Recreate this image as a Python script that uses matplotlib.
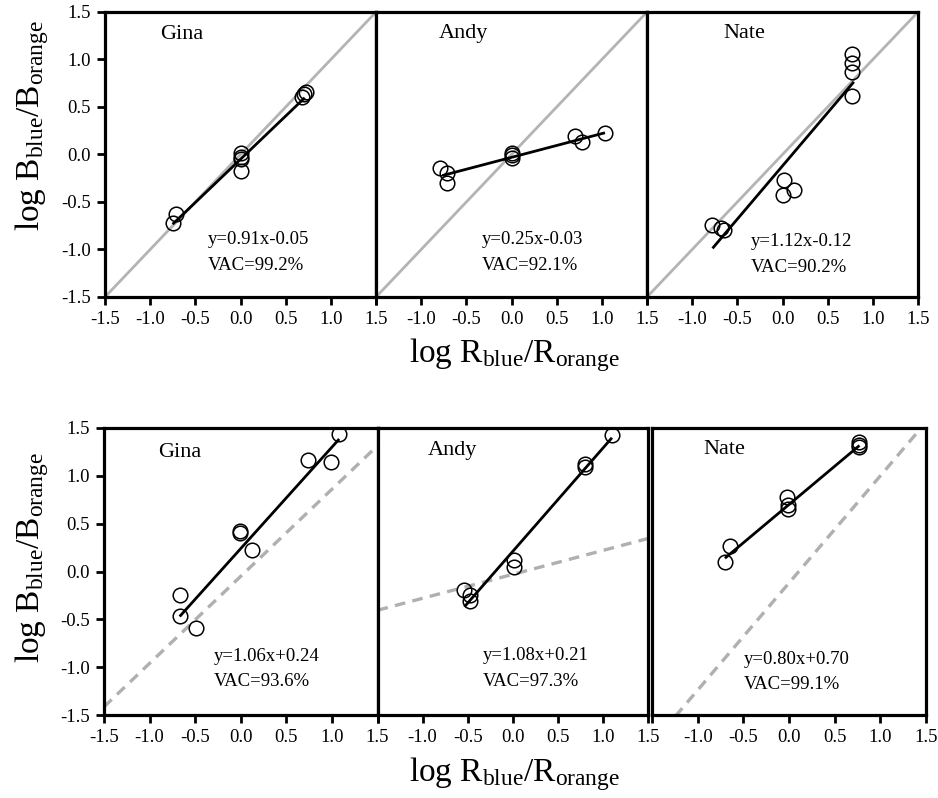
import matplotlib
matplotlib.use("Agg")
import matplotlib.pyplot as plt
import numpy as np

plt.rcParams['font.family'] = ['Liberation Serif', 'DejaVu Serif']
plt.rcParams['mathtext.fontset'] = 'custom'
plt.rcParams['mathtext.rm'] = 'Liberation Serif'
plt.rcParams['mathtext.it'] = 'Liberation Serif:italic'
plt.rcParams['axes.unicode_minus'] = False

names = ['Gina', 'Andy', 'Nate']

# top row: symmetric conditions
top_x = [
    [-0.75, -0.71, 0.0, 0.0, 0.01, 0.0, 0.68, 0.70, 0.72],
    [-0.79, -0.71, -0.71, 0.0, 0.01, 0.0, 0.70, 0.78, 1.04],
    [-0.78, -0.68, -0.65, 0.02, 0.13, 0.0, 0.77, 0.77, 0.77, 0.77],
]
top_y = [
    [-0.72, -0.63, 0.02, -0.03, -0.05, -0.17, 0.60, 0.64, 0.66],
    [-0.145, -0.19, -0.30, 0.02, -0.01, -0.04, 0.19, 0.13, 0.23],
    [-0.74, -0.77, -0.79, -0.27, -0.37, -0.43, 1.06, 0.96, 0.87, 0.62],
]
top_slope = [0.91, 0.25, 1.12]
top_icpt = [-0.05, -0.03, -0.12]
top_range = [(-0.74, 0.70), (-0.75, 1.02), (-0.765, 0.78)]
top_vac = ['99.2%', '92.1%', '90.2%']

# bottom row
bot_x = [
    [-0.67, -0.67, -0.49, -0.01, -0.01, 0.12, 0.74, 0.99, 1.08],
    [-0.54, -0.47, -0.47, 0.01, 0.01, 0.80, 0.80, 1.10],
    [-0.70, -0.65, -0.02, -0.01, -0.01, 0.77, 0.77, 0.77],
]
bot_y = [
    [-0.25, -0.47, -0.59, 0.42, 0.40, 0.22, 1.17, 1.14, 1.44],
    [-0.19, -0.25, -0.31, 0.12, 0.05, 1.12, 1.09, 1.43],
    [0.10, 0.27, 0.78, 0.69, 0.65, 1.35, 1.32, 1.30],
]
bot_slope = [1.06, 1.08, 0.80]
bot_icpt = [0.24, 0.21, 0.70]
bot_range = [(-0.66, 1.07), (-0.525, 1.09), (-0.69, 0.76)]
bot_vac = ['93.6%', '97.3%', '99.1%']

ticks = [-1.5, -1.0, -0.5, 0.0, 0.5, 1.0, 1.5]
tick_labels = ['%.1f' % t for t in ticks]

W, H = 938, 798
fig = plt.figure(figsize=(W / 100, H / 100), dpi=100)


def rect(x0, x1, ytop, ybot):
    return [x0 / W, 1 - ybot / H, (x1 - x0) / W, (ybot - ytop) / H]


top_edges = [(105, 376), (376, 647), (647, 918)]
bot_edges = [(104, 377.5), (377.5, 648), (652, 926)]

# label positions (data coords)
top_name_pos = [(-0.89, 1.26), (-0.81, 1.27), (-0.66, 1.27)]
top_eq_pos = [(-0.36, -0.90), (-0.33, -0.90), (-0.35, -0.92)]
bot_name_pos = [(-0.905, 1.24), (-0.94, 1.27), (-0.94, 1.28)]
bot_eq_pos = [(-0.30, -0.89), (-0.33, -0.88), (-0.49, -0.92)]


def style_axis(ax, col):
    ax.set_xlim(-1.5, 1.5)
    ax.set_ylim(-1.5, 1.5)
    ax.set_xticks(ticks)
    labs = list(tick_labels)
    if col > 0:
        labs[0] = ''
    ax.set_xticklabels(labs)
    ax.set_yticks(ticks)
    ax.set_yticklabels(tick_labels)
    ax.tick_params(direction='out', length=6, width=2, labelsize=13.5, pad=4)
    if col > 0:
        ax.tick_params(axis='y', left=False, labelleft=False)
    for s in ax.spines.values():
        s.set_linewidth(2.3)
        s.set_zorder(5)


def draw_row(edges, ytop, ybot, xs, ys, slope, icpt, rng, vac, name_pos, eq_pos, ref):
    for i in range(3):
        ax = fig.add_axes(rect(edges[i][0], edges[i][1], ytop, ybot))
        style_axis(ax, i)
        full = np.array([-1.5, 1.5])
        if ref is None:
            ax.plot(full, full, color='#b4b4b4', lw=2.0, zorder=1)
        else:
            ax.plot(full, ref[0][i] * full + ref[1][i], color='#b0b0b0', lw=2.4,
                    dashes=(3.2, 2.2), zorder=1)
        ax.plot(xs[i], ys[i], 'o', ms=10.5, mfc='none', mec='black', mew=1.1, zorder=2)
        fx = np.array(rng[i])
        ax.plot(fx, slope[i] * fx + icpt[i], color='black', lw=2.0, zorder=3)
        ax.text(name_pos[i][0], name_pos[i][1], names[i], fontsize=16, va='center', ha='left')
        sign = '+' if icpt[i] >= 0 else '-'
        eq = 'y=%.2fx%s%.2f' % (slope[i], sign, abs(icpt[i]))
        ax.text(eq_pos[i][0], eq_pos[i][1], eq, fontsize=13.5, va='center', ha='left')
        ax.text(eq_pos[i][0], eq_pos[i][1] - 0.265, 'VAC=' + vac[i], fontsize=13.5,
                va='center', ha='left')


draw_row(top_edges, 12, 297, top_x, top_y, top_slope, top_icpt, top_range, top_vac,
         top_name_pos, top_eq_pos, None)
draw_row(bot_edges, 428, 715, bot_x, bot_y, bot_slope, bot_icpt, bot_range, bot_vac,
         bot_name_pos, bot_eq_pos, (top_slope, top_icpt))

ylab = r'$\mathrm{log\ B_{blue}/B_{orange}}$'
xlab = r'$\mathrm{log\ R_{blue}/R_{orange}}$'
fig.text(32 / W, 1 - 126 / H, ylab, rotation=90, fontsize=24, ha='center', va='center')
fig.text(32 / W, 1 - 558 / H, ylab, rotation=90, fontsize=24, ha='center', va='center')
fig.text(514 / W, 1 - 362 / H, xlab, fontsize=24, ha='center', va='baseline')
fig.text(514 / W, 1 - 781 / H, xlab, fontsize=24, ha='center', va='baseline')

fig.savefig('out.png', dpi=100)
